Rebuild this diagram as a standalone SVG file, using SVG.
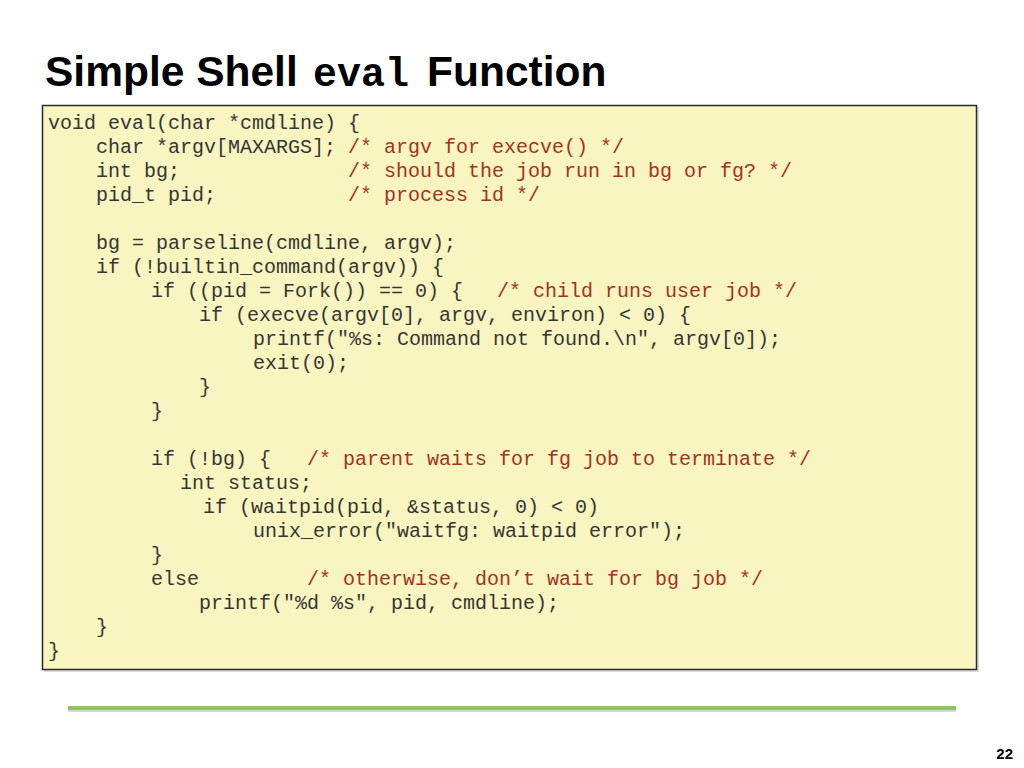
<svg xmlns="http://www.w3.org/2000/svg" width="1024" height="768" viewBox="0 0 1024 768">
<style>
.code{font-family:"Liberation Mono","DejaVu Sans Mono",monospace;font-size:20px;fill:#363636;white-space:pre}
.cm{fill:#a5321f}
.title{font-family:"Liberation Sans",Arial,sans-serif;font-weight:bold;font-size:42.5px;fill:#000}
.tmono{font-family:"Liberation Mono","Courier New",monospace;font-weight:bold;font-size:40px;fill:#000}
</style>
<rect width="1024" height="768" fill="#ffffff"/>
<g id="title">
<text class="title" x="45" y="86">Simple Shell</text>
<text class="tmono" x="313" y="86">eval</text>
<text class="title" x="427" y="86">Function</text>
</g>
<g id="codebox">
<rect x="44" y="107" width="935" height="565" fill="#c8c8c8" opacity="0.6"/>
<rect x="42.5" y="105.5" width="934" height="564" fill="#f8f5c1" stroke="#2a2a2a" stroke-width="1.5"/>
<g id="code" class="code">
<text x="48" y="129">void eval(char *cmdline) {</text>
<text x="96" y="153">char *argv[MAXARGS];</text><text class="cm" x="348" y="153">/* argv for execve() */</text>
<text x="96" y="177">int bg;</text><text class="cm" x="348" y="177">/* should the job run in bg or fg? */</text>
<text x="96" y="201">pid_t pid;</text><text class="cm" x="348" y="201">/* process id */</text>
<text x="96" y="249">bg = parseline(cmdline, argv);</text>
<text x="96" y="273">if (!builtin_command(argv)) {</text>
<text x="151" y="297">if ((pid = Fork()) == 0) {</text><text class="cm" x="497" y="297">/* child runs user job */</text>
<text x="199" y="321">if (execve(argv[0], argv, environ) &lt; 0) {</text>
<text x="253" y="345">printf("%s: Command not found.\n", argv[0]);</text>
<text x="253" y="369">exit(0);</text>
<text x="199" y="393">}</text>
<text x="151" y="417">}</text>
<text x="151" y="465">if (!bg) {</text><text class="cm" x="307" y="465">/* parent waits for fg job to terminate */</text>
<text x="180" y="489">int status;</text>
<text x="203" y="513">if (waitpid(pid, &amp;status, 0) &lt; 0)</text>
<text x="253" y="537">unix_error("waitfg: waitpid error");</text>
<text x="151" y="561">}</text>
<text x="151" y="585">else</text><text class="cm" x="307" y="585">/* otherwise, don’t wait for bg job */</text>
<text x="199" y="609">printf("%d %s", pid, cmdline);</text>
<text x="96" y="633">}</text>
<text x="48" y="657">}</text>
</g>
</g>
<g id="footer">
<line x1="68" y1="711" x2="956" y2="711" stroke="#d8d8d8" stroke-width="2"/>
<line x1="68" y1="708" x2="956" y2="708" stroke="#8dc45b" stroke-width="4"/>
<text x="1013" y="759" text-anchor="end" font-family="Liberation Sans Narrow,Liberation Sans,Arial,sans-serif" font-weight="bold" font-size="15" fill="#000">22</text>
</g>
</svg>
